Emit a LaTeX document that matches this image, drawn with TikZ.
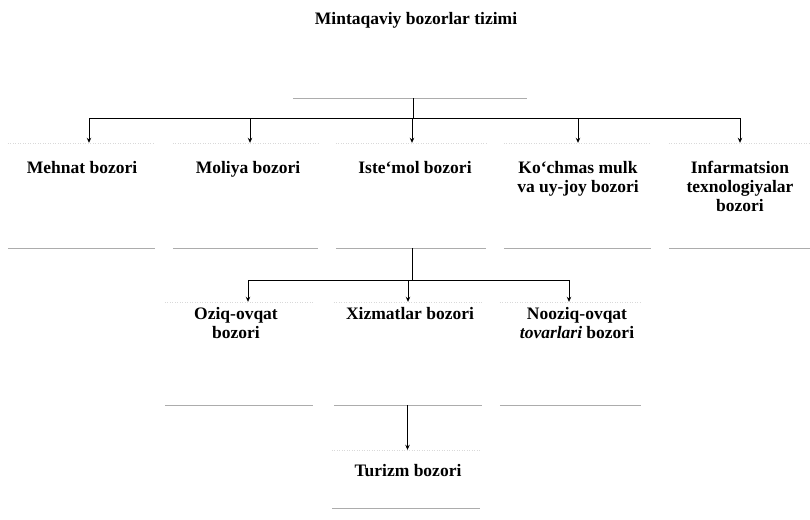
\documentclass[tikz,border=0pt]{standalone}
\usepackage{fontspec}
\setmainfont{Liberation Serif}
\usetikzlibrary{arrows.meta,calc}
\begin{document}
\begin{tikzpicture}[x=1pt,y=1pt,
  boxa/.style={draw=none, rectangle, inner sep=0, minimum width=#1},
  lbl/.style={font=\fontsize{17.5}{19}\selectfont\bfseries, align=center, inner sep=0, anchor=north},
  conn/.style={line width=0.7pt},
  arr/.style={conn, -{Stealth[length=5pt,width=4.5pt]}},
  bus/.style={line width=1.1pt},
  bedge/.style={gray!65, line width=0.6pt},
  tedge/.style={gray!30, line width=0.5pt, dotted}]
\useasboundingbox (0,0) rectangle (810,-519);

% boxes
\node[boxa=234, minimum height=98] (title) at (410,-49) {};
\node[boxa=147, minimum height=105] (mehnat) at (81.5,-195.5) {};
\node[boxa=145, minimum height=105] (moliya) at (245.5,-195.5) {};
\node[boxa=150, minimum height=105] (istemol) at (411,-195.5) {};
\node[boxa=147, minimum height=105] (kochmas) at (577.5,-195.5) {};
\node[boxa=141, minimum height=105] (infar) at (739.5,-195.5) {};
\node[boxa=148, minimum height=103] (oziq) at (239,-353.5) {};
\node[boxa=148, minimum height=103] (xizmat) at (408,-353.5) {};
\node[boxa=141, minimum height=103] (nooziq) at (570.5,-353.5) {};
\node[boxa=148, minimum height=58] (turizm) at (406,-479) {};

% visible box edges
\draw[bedge] (title.south west) -- (title.south east);
\foreach \b in {mehnat,moliya,istemol,kochmas,infar,oziq,xizmat,nooziq,turizm}{
  \draw[bedge] (\b.south west) -- (\b.south east);
  \draw[tedge] (\b.north west) -- (\b.north east);
}

% texts
\node[lbl] (tTitle) at (416,-12) {Mintaqaviy bozorlar tizimi};
\node[lbl] (tMehnat) at (82,-161) {Mehnat bozori};
\node[lbl] (tMoliya) at (248,-161) {Moliya bozori};
\node[lbl] (tIstemol) at (415,-161) {Iste‘mol bozori};
\node[lbl] (tKochmas) at (578,-161) {Ko‘chmas mulk\\va uy-joy bozori};
\node[lbl] (tInfar) at (740,-161) {Infarmatsion\\texnologiyalar\\bozori};
\node[lbl] (tOziq) at (236,-307) {Oziq-ovqat\\bozori};
\node[lbl] (tXizmat) at (410,-307) {Xizmatlar bozori};
\node[lbl] (tNooziq) at (577,-307) {Nooziq-ovqat\\\textit{tovarlari} bozori};
\node[lbl] (tTurizm) at (408,-464) {Turizm bozori};

% arrow entry points
\coordinate (a1) at ($(mehnat.north)+(7.5,0)$);
\coordinate (a2) at ($(moliya.north)+(4.5,0)$);
\coordinate (a3) at ($(istemol.north)+(1,0)$);
\coordinate (a4) at ($(kochmas.north)+(0.5,0)$);
\coordinate (a5) at ($(infar.north)+(0.5,0)$);
\coordinate (b1) at ($(oziq.north)+(9,0)$);
\coordinate (b2) at (xizmat.north);
\coordinate (b3) at ($(nooziq.north)+(-1.5,0)$);
\coordinate (c1) at ($(turizm.north)+(1.5,0)$);

% level 1
\coordinate (bus1) at ($(title.south)+(3,-20)$);
\draw[conn] ($(title.south)+(3,0)$) -- (bus1);
\draw[bus] (a1 |- bus1) -- (a5 |- bus1);
\foreach \p in {a1,a2,a3,a4,a5}{ \draw[arr] (\p |- bus1) -- (\p); }

% level 2
\coordinate (bus2) at ($(istemol.south)+(1,-32)$);
\draw[conn] ($(istemol.south)+(1,0)$) -- (bus2);
\draw[bus] (b1 |- bus2) -- (b3 |- bus2);
\foreach \p in {b1,b2,b3}{ \draw[arr] (\p |- bus2) -- (\p); }

% level 3
\draw[arr] (c1 |- xizmat.south) -- (c1);
\end{tikzpicture}
\end{document}
